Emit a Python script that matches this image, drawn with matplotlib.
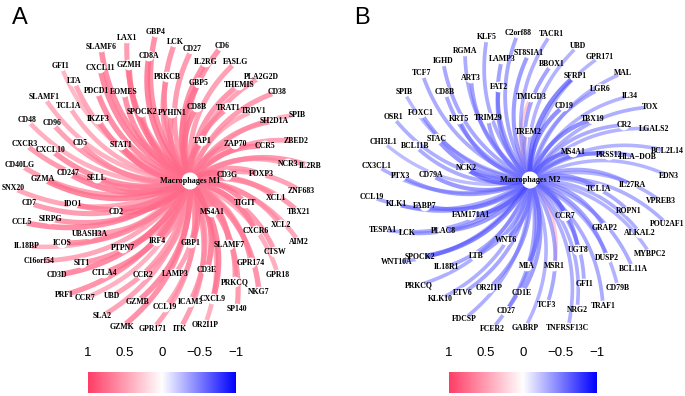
import numpy as np
import matplotlib.pyplot as plt
from matplotlib.colors import LinearSegmentedColormap, Normalize

# ---- panel A: genes correlated with Macrophages M1 (layout x/y, correlation r)
hub_a = "Macrophages M1"
genes_a = ["LAX1", "GBP4", "LCK", "CD27", "CD6", "SLAMF6", "CD8A", "IL2RG", "FASLG", "GFI1",
           "CXCL11", "GZMH", "PRKCB", "GBP5", "PLA2G2D", "THEMIS", "LTA", "PDCD1", "EOMES", "CD38",
           "SLAMF1", "TCL1A", "SPOCK2", "PYHIN1", "CD8B", "TRAT1", "TRDV1", "SPIB", "CD48", "CD96",
           "IKZF3", "SH2D1A", "CXCR3", "CXCL10", "CD5", "STAT1", "TAP1", "ZAP70", "CCR5", "ZBED2",
           "CD40LG", "CD247", "SELL", "NCR3", "IL2RB", "GZMA", "CD3G", "FOXP3", "SNX20", "ZNF683",
           "CD7", "IDO1", "XCL1", "TIGIT", "TBX21", "CCL5", "SIRPG", "CD2", "MS4A1", "UBASH3A",
           "XCL2", "CXCR6", "IL18BP", "ICOS", "IRF4", "GBP1", "SLAMF7", "AIM2", "CTSW", "C16orf54",
           "PTPN7", "SIT1", "GPR174", "CD3D", "CTLA4", "CCR2", "LAMP3", "CD3E", "PRKCQ", "GPR18",
           "PRF1", "CCR7", "UBD", "GZMB", "CCL19", "ICAM3", "CXCL9", "NKG7", "SLA2", "SP140",
           "GZMK", "GPR171", "ITK", "OR2I1P"]
x_a = [-63, -34, -15, 2, 32, -89, -41, 16, 46, -129,
       -90, -61, -23, 9, 71, 49, -116, -93, -66, 87,
       -146, -121, -48, -18, 7, 38, 64, 107, -163, -138,
       -92, 84, -165, -139, -110, -69, 12, 45, 75, 106,
       -170, -122, -93, 98, 120, -147, 37, 71, -177, 111,
       -161, -117, 86, 55, 109, -168, -140, -74, 22, -100,
       91, 66, -163, -128, -33, 1, 39, 109, 85, -151,
       -67, -108, 61, -133, -86, -47, -15, 17, 45, 88,
       -126, -105, -78, -53, -25, 0, 23, 69, -88, 47,
       -68, -37, -10, 15]
y_a = [143, 149, 139, 132, 135, 134, 125, 119, 119, 115,
       113, 116, 104, 98, 104, 96, 100, 90, 89, 89,
       84, 75, 69, 68, 74, 73, 70, 66, 61, 58,
       62, 60, 37, 31, 38, 36, 40, 37, 35, 40,
       16, 8, 3, 17, 15, 2, 6, 7, -7, -10,
       -22, -23, -17, -22, -31, -41, -38, -31, -31, -53,
       -44, -50, -65, -62, -60, -62, -64, -61, -71, -80,
       -67, -82, -82, -94, -92, -94, -93, -89, -101, -94,
       -114, -117, -115, -121, -126, -121, -118, -111, -135, -128,
       -146, -148, -148, -144]
r_a = [0.62, 0.70, 0.66, 0.64, 0.68, 0.72, 0.78, 0.70, 0.60, 0.45,
       0.74, 0.76, 0.62, 0.72, 0.58, 0.66, 0.55, 0.72, 0.70, 0.62,
       0.50, 0.52, 0.62, 0.70, 0.76, 0.68, 0.52, 0.48, 0.50, 0.60,
       0.66, 0.64, 0.62, 0.70, 0.64, 0.74, 0.72, 0.70, 0.72, 0.58,
       0.60, 0.74, 0.60, 0.56, 0.66, 0.76, 0.78, 0.62, 0.56, 0.58,
       0.62, 0.70, 0.64, 0.72, 0.62, 0.72, 0.66, 0.78, 0.50, 0.60,
       0.62, 0.70, 0.48, 0.68, 0.56, 0.72, 0.66, 0.54, 0.62, 0.56,
       0.60, 0.66, 0.62, 0.74, 0.72, 0.52, 0.58, 0.76, 0.64, 0.52,
       0.68, 0.50, 0.60, 0.72, 0.56, 0.62, 0.76, 0.68, 0.58, 0.64,
       0.70, 0.60, 0.62, 0.50]

# ---- panel B: genes correlated with Macrophages M2
hub_b = "Macrophages M2"
genes_b = ["KLF5", "C2orf88", "TACR1", "RGMA", "LAMP3", "UBD", "IGHD", "ST8SIA1", "GPR171", "ART3",
           "BBOX1", "TCF7", "FAT2", "SFRP1", "MAL", "SPIB", "CD8B", "TMIGD3", "LGR6", "IL34",
           "FOXC1", "OSR1", "KRT5", "TRIM29", "CD19", "TOX", "STAC", "CHI3L1", "BCL11B", "TBX19",
           "TREM2", "CR2", "LGALS2", "CX3CL1", "NCK2", "MS4A1", "PRSS12", "HLA\u2212DOB", "BCL2L14", "PTX3",
           "CD79A", "EDN3", "CCL19", "KLK1", "FABP7", "TCL1A", "IL27RA", "VPREB3", "FAM171A1", "ROPN1",
           "CCR7", "POU2AF1", "TESPA1", "LCK", "PLAC8", "GRAP2", "ALKAL2", "WNT6", "SPOCK2", "WNT10A",
           "LTB", "UGT8", "MYBPC2", "IL18R1", "DUSP2", "BCL11A", "MIA", "MSR1", "PRKCQ", "ETV6",
           "OR2I1P", "GFI1", "CD79B", "KLK10", "CD1E", "CD27", "TCF3", "NRG2", "TRAF1", "FDCSP",
           "FCER2", "GABRP", "TNFRSF13C"]
x_b = [-43, -12, 21, -65, -28, 48, -87, -1, 70, -59,
       22, -108, -31, 45, 93, -126, -85, 1, 70, 100,
       -109, -137, -71, -42, 34, 120, -93, -147, -115, 63,
       -2, 94, 124, -153, -64, 43, 79, 108, 137, -129,
       -99, 139, -158, -134, -105, 69, 102, 131, -59, 99,
       35, 137, -147, -123, -87, 75, 110, -24, -110, -133,
       -54, 48, 120, -84, 77, 103, -3, 24, -111, -67,
       -41, 54, 88, -90, -8, -24, 17, 47, 73, -66,
       -38, -5, 38]
y_b = [143, 147, 146, 129, 121, 134, 119, 127, 123, 102,
       116, 107, 93, 104, 107, 88, 88, 83, 91, 84,
       67, 63, 61, 62, 74, 73, 41, 38, 34, 61,
       48, 55, 51, 14, 12, 28, 25, 23, 29, 4,
       5, 4, -17, -24, -26, -9, -5, -21, -35, -31,
       -36, -44, -50, -53, -51, -48, -53, -60, -77, -82,
       -76, -70, -74, -87, -78, -89, -86, -86, -105, -113,
       -108, -104, -108, -119, -113, -131, -125, -130, -126, -139,
       -149, -148, -148]
r_b = [-0.50, -0.52, -0.48, -0.50, -0.56, -0.46, -0.52, -0.58, -0.44, -0.55,
       -0.54, -0.50, -0.60, -0.72, -0.46, -0.42, -0.52, 0.40, -0.50, -0.46,
       -0.56, -0.48, -0.58, -0.56, -0.66, -0.48, -0.62, -0.40, -0.50, -0.66,
       0.45, -0.50, -0.46, -0.48, -0.70, -0.68, -0.58, -0.52, -0.46, -0.56,
       -0.60, -0.44, -0.50, -0.54, -0.62, -0.56, -0.52, -0.46, -0.66, -0.50,
       -0.60, -0.48, -0.50, -0.54, -0.60, -0.56, -0.48, -0.58, -0.72, -0.46,
       -0.56, -0.62, -0.46, -0.52, -0.56, -0.50, -0.60, 0.42, -0.48, -0.52,
       -0.56, -0.50, -0.46, -0.48, -0.58, -0.56, -0.52, -0.48, -0.50, -0.48,
       -0.50, -0.46, -0.48]

bar_ticks = [1, 0.5, 0, -0.5, -1]
bar_labels = ["1", "0.5", "0", "\u22120.5", "\u22121"]

cmap = LinearSegmentedColormap.from_list("corr", ["#0000FF", "#FFFFFF", "#FF3D66"])
norm = Normalize(-1, 1)
serif = ["Liberation Serif", "DejaVu Serif"]


def draw_network(ax, hub, genes, xs, ys, rs, base_lw, alpha):
    order = np.argsort(np.abs(rs))
    t = np.linspace(0, 1, 40)[:, None]
    for i in order:
        p1 = np.array([xs[i], ys[i]], dtype=float)
        p0 = np.zeros(2)
        d = p1 - p0
        perp = np.array([-d[1], d[0]])
        ctrl = (p0 + p1) / 2 + 0.25 * perp
        pts = (1 - t) ** 2 * p0 + 2 * (1 - t) * t * ctrl + t ** 2 * p1
        ax.plot(pts[:, 0], pts[:, 1], color=cmap(norm(rs[i])), alpha=alpha,
                lw=base_lw + 3.0 * abs(rs[i]), solid_capstyle="butt", zorder=1)
    ax.scatter(xs, ys, s=60, color="white", edgecolors="none", zorder=2)
    ax.scatter([0], [0], s=150, color="white", edgecolors="none", zorder=2)
    for g, x, y in zip(genes, xs, ys):
        ax.text(x, y, g, ha="center", va="center", fontsize=5.6, fontweight="bold",
                family=serif, zorder=3, clip_on=False)
    ax.text(0, 0, hub, ha="center", va="center", fontsize=5.9, fontweight="bold",
            family=serif, zorder=3)
    ax.axis("off")


def draw_bar(ax):
    ax.imshow(np.linspace(1, -1, 256)[None, :], cmap=cmap, norm=norm, aspect="auto",
              extent=[0, 1, 0, 1])
    ax.set_xlim(0, 1)
    ax.set_xticks(np.linspace(0, 1, len(bar_ticks)))
    ax.set_xticklabels(bar_labels, family=["Liberation Sans"], fontsize=9.5)
    ax.tick_params(top=True, labeltop=True, bottom=False, labelbottom=False,
                   left=False, labelleft=False, length=0, pad=9)
    ax.set_yticks([])
    for s in ax.spines.values():
        s.set_visible(False)


W, H = 685, 396
fig = plt.figure(figsize=(W / 100, H / 100), dpi=100)

ax_a = fig.add_axes([0, 56 / H, 342 / W, 340 / H])
ax_a.set_xlim(-190, 152)
ax_a.set_ylim(-159, 181)
draw_network(ax_a, hub_a, genes_a, x_a, y_a, r_a, 1.8, 0.8)

ax_b = fig.add_axes([342 / W, 56 / H, 343 / W, 340 / H])
ax_b.set_xlim(-188, 155)
ax_b.set_ylim(-160, 180)
draw_network(ax_b, hub_b, genes_b, x_b, y_b, r_b, 1.2, 0.65)

fig.text(20 / W, 1 - 18 / H, "A", fontsize=17, ha="center", va="center", family=["Liberation Sans"])
fig.text(362 / W, 1 - 18 / H, "B", fontsize=17, ha="center", va="center", family=["Liberation Sans"])

draw_bar(fig.add_axes([88 / W, 3 / H, 148 / W, 21 / H]))
draw_bar(fig.add_axes([449 / W, 3 / H, 148 / W, 21 / H]))

fig.savefig("out.png", dpi=100)
